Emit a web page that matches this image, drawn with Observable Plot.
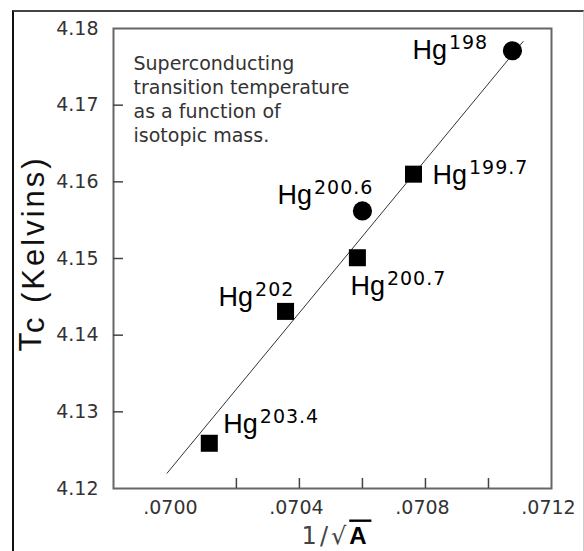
<!DOCTYPE html>
<html><head><meta charset="utf-8">
<script src="https://cdn.jsdelivr.net/npm/d3@7"></script>
<script src="https://cdn.jsdelivr.net/npm/@observablehq/plot@0.6"></script>
<style>
html,body{margin:0;padding:0;background:#fff;overflow:hidden;}
#wrap{position:relative;width:584px;height:551px;}
#outer{position:absolute;left:12px;top:10px;width:572px;height:600px;border-left:2px solid #111;border-top:2px solid #444;border-right:1px solid #ccc;box-sizing:border-box;pointer-events:none}
</style></head><body>
<div id="wrap"><div id="chart"></div><div id="outer"></div></div>
<script>
// ---- data ----
const isotopes = ["198", "199.7", "200.6", "200.7", "202", "203.4"];
const invSqrtA = [0.071076, 0.070762, 0.0706, 0.070584, 0.070356, 0.070114];
const tcKelvin = [4.1771, 4.1610, 4.1562, 4.1501, 4.1431, 4.1259];
const markerShape = ["circle", "square", "circle", "square", "square", "square"];
const fitX = [0.06998, 0.07111];
const fitY = [4.1220, 4.1783];
const yTicks = [4.12, 4.13, 4.14, 4.15, 4.16, 4.17, 4.18];
const xTicks = [0.0700, 0.0702, 0.0704, 0.0706, 0.0708, 0.0710, 0.0712];
const xLabelTicks = [0.0700, 0.0704, 0.0708, 0.0712];
const noteLines = ["Superconducting", "transition temperature", "as a function of", "isotopic mass."];
const yTitle = ["T", "c", " (Kelvins)"];
const xTitle = ["1/\u221A", "A"];

// ---- layout (label offsets in px from each point) ----
const labelOffset = [[-100, 8], [19, 10], [-85, -7], [-7, 37], [-67, -5], [14, -10]];

const W = 584, H = 551, mL = 113, mR = 33, mT = 28, mB = 63;
const pw = W - mL - mR, ph = H - mT - mB;
const pts = isotopes.map((m, i) => ({m, x: invSqrtA[i], y: tcKelvin[i], s: markerShape[i]}));
const fit = fitX.map((x, i) => ({x, y: fitY[i]}));

const marks = [
  Plot.frame({stroke: "#666", strokeWidth: 2}),
  Plot.tickY(yTicks.slice(1, -1), {y: d => d, insetRight: pw - 10, stroke: "#444", strokeWidth: 1.5}),
  Plot.tickX(xTicks.slice(1, -1), {x: d => d, insetTop: ph - 10, stroke: "#444", strokeWidth: 1.5}),
  Plot.axisY(yTicks, {tickSize: 0, tickPadding: 15, tickFormat: d => d.toFixed(2), label: null, fontSize: 19, fill: "#333"}),
  Plot.axisX(xLabelTicks, {tickSize: 0, tickPadding: 12, tickFormat: d => d.toFixed(4).slice(1), label: null, fontSize: 19, dx: -3, fill: "#333"}),
  Plot.line(fit, {x: "x", y: "y", stroke: "#333", strokeWidth: 1}),
  Plot.dot(pts, {x: "x", y: "y", symbol: "s", r: 9.6, fill: "#000", stroke: "none"}),
  Plot.text([noteLines.join("\n")], {frameAnchor: "top-left", dx: 20, dy: 24.5, lineAnchor: "top", lineHeight: 24 / 19, fontSize: 19, fill: "#333", textAnchor: "start"}),
  Plot.text([yTitle.join("|")], {frameAnchor: "left", textAnchor: "middle", rotate: -90, dx: -73, dy: -5, lineAnchor: "bottom", fontSize: 31, fontFamily: "Liberation Sans", fill: "#111", className: "ytitle"}),
  Plot.text([xTitle.join("|")], {frameAnchor: "bottom", textAnchor: "middle", dx: 4, dy: 55, lineAnchor: "bottom", fontSize: 24, className: "xtitle"}),
  ...pts.map((p, i) => Plot.text([p], {x: "x", y: "y", text: d => "Hg|" + d.m, dx: labelOffset[i][0], dy: labelOffset[i][1], textAnchor: "start", lineAnchor: "bottom", fontSize: 27, fontFamily: "Liberation Sans", fill: "#000", className: "hglabel"}))
];

const chart = Plot.plot({
  width: W, height: H,
  marginLeft: mL, marginRight: mR, marginTop: mT, marginBottom: mB,
  x: {domain: [0.06981, 0.0712]},
  y: {domain: [4.12, 4.18]},
  symbol: {domain: ["circle", "square"], range: ["circle", "square"]},
  style: {fontFamily: "DejaVu Sans", background: "#fff", overflow: "visible"},
  marks
});
document.getElementById("chart").appendChild(chart);

// superscripts / subscripts
const svg = d3.select(chart);
svg.selectAll(".hglabel text").each(function () {
  const [base, sup] = this.textContent.split("|");
  const t = d3.select(this);
  t.text(null);
  t.append("tspan").text(base);
  t.append("tspan").attr("dx", 2).attr("dy", -10).attr("font-family", "DejaVu Sans").attr("font-size", 19).attr("letter-spacing", 1).text(sup);
});
svg.selectAll(".ytitle text").each(function () {
  const parts = this.textContent.split("|");
  const t = d3.select(this);
  t.text(null).attr("letter-spacing", 3);
  t.append("tspan").text(parts[0]);
  t.append("tspan").attr("dy", 3).text(parts[1]);
  t.append("tspan").text(parts[2]);
});
svg.selectAll(".xtitle text").each(function () {
  const parts = this.textContent.split("|");
  const t = d3.select(this);
  t.text(null);
  t.append("tspan").attr("font-family", "DejaVu Sans").attr("fill", "#444").attr("letter-spacing", 3).text(parts[0]);
  t.append("tspan").attr("font-family", "Liberation Sans").attr("font-weight", "bold").attr("fill", "#000").style("text-decoration", "overline").text(parts[1] + "\u2009");
});
</script>
</body></html>
